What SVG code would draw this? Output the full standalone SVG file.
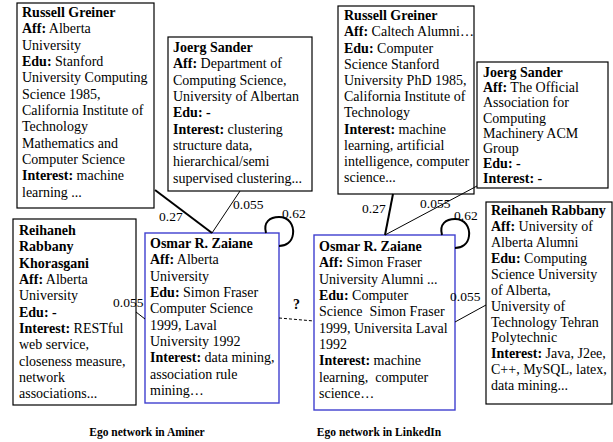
<svg xmlns="http://www.w3.org/2000/svg" width="613" height="442" viewBox="0 0 613 442">
<style>
text{font-family:"Liberation Serif","Times New Roman",serif;font-size:14px;fill:#000}
.b{font-weight:bold}
.box{fill:#fff;stroke:#000;stroke-width:1.2}
.ego{fill:#fff;stroke:#3f3fcf;stroke-width:1.4}
.thin{fill:none;stroke:#000;stroke-width:1}
.thick{fill:none;stroke:#000;stroke-width:2}
.dash{fill:none;stroke:#000;stroke-width:1;stroke-dasharray:3 2}
.lbl{font-size:13.5px}
.cap{font-size:11.5px;font-weight:bold;text-anchor:middle}
</style>
<rect width="613" height="442" fill="#fff"/>
<g id="aminer-russell">
<rect class="box" x="17" y="3" width="137" height="205"/>
<text>
<tspan x="22" y="17" class="b">Russell Greiner</tspan>
<tspan x="22" y="33"><tspan class="b">Aff:</tspan> Alberta</tspan>
<tspan x="22" y="50">University</tspan>
<tspan x="22" y="66"><tspan class="b">Edu:</tspan> Stanford</tspan>
<tspan x="22" y="82">University Computing</tspan>
<tspan x="22" y="99">Science 1985,</tspan>
<tspan x="22" y="115">California Institute of</tspan>
<tspan x="22" y="131">Technology</tspan>
<tspan x="22" y="148">Mathematics and</tspan>
<tspan x="22" y="164">Computer Science</tspan>
<tspan x="22" y="180"><tspan class="b">Interest:</tspan> machine</tspan>
<tspan x="22" y="197">learning ...</tspan>
</text>
</g>
<g id="aminer-joerg">
<rect class="box" x="168" y="37" width="144" height="154"/>
<text>
<tspan x="173" y="52" class="b">Joerg Sander</tspan>
<tspan x="173" y="68"><tspan class="b">Aff:</tspan> Department of</tspan>
<tspan x="173" y="85">Computing Science,</tspan>
<tspan x="173" y="101">University of Albertan</tspan>
<tspan x="173" y="117" class="b">Edu: -</tspan>
<tspan x="173" y="134"><tspan class="b">Interest:</tspan> clustering</tspan>
<tspan x="173" y="150">structure data,</tspan>
<tspan x="173" y="166">hierarchical/semi</tspan>
<tspan x="173" y="183">supervised clustering...</tspan>
</text>
</g>
<g id="aminer-reihaneh">
<rect class="box" x="13" y="219" width="123" height="186"/>
<text>
<tspan x="19" y="235" class="b">Reihaneh</tspan>
<tspan x="19" y="251" class="b">Rabbany</tspan>
<tspan x="19" y="268" class="b">Khorasgani</tspan>
<tspan x="19" y="284"><tspan class="b">Aff:</tspan> Alberta</tspan>
<tspan x="19" y="300">University</tspan>
<tspan x="19" y="317" class="b">Edu: -</tspan>
<tspan x="19" y="333"><tspan class="b">Interest:</tspan> RESTful</tspan>
<tspan x="19" y="349">web service,</tspan>
<tspan x="19" y="366">closeness measure,</tspan>
<tspan x="19" y="382">network</tspan>
<tspan x="19" y="398">associations...</tspan>
</text>
</g>
<g id="aminer-osmar">
<rect class="ego" x="145" y="233" width="134" height="170"/>
<text>
<tspan x="150" y="248" class="b">Osmar R. Zaiane</tspan>
<tspan x="150" y="264"><tspan class="b">Aff:</tspan> Alberta</tspan>
<tspan x="150" y="281">University</tspan>
<tspan x="150" y="297"><tspan class="b">Edu:</tspan> Simon Fraser</tspan>
<tspan x="150" y="313">Computer Science</tspan>
<tspan x="150" y="330">1999, Laval</tspan>
<tspan x="150" y="346">University 1992</tspan>
<tspan x="150" y="362"><tspan class="b">Interest:</tspan> data mining,</tspan>
<tspan x="150" y="379">association rule</tspan>
<tspan x="150" y="395">mining…</tspan>
</text>
</g>
<g id="linkedin-russell">
<rect class="box" x="338" y="6" width="136" height="188"/>
<text>
<tspan x="344" y="20" class="b">Russell Greiner</tspan>
<tspan x="344" y="36"><tspan class="b">Aff:</tspan> Caltech Alumni…</tspan>
<tspan x="344" y="53"><tspan class="b">Edu:</tspan> Computer</tspan>
<tspan x="344" y="69">Science Stanford</tspan>
<tspan x="344" y="85">University PhD 1985,</tspan>
<tspan x="344" y="101">California Institute of</tspan>
<tspan x="344" y="117">Technology</tspan>
<tspan x="344" y="134"><tspan class="b">Interest:</tspan> machine</tspan>
<tspan x="344" y="150">learning, artificial</tspan>
<tspan x="344" y="166">intelligence, computer</tspan>
<tspan x="344" y="182">science...</tspan>
</text>
</g>
<g id="linkedin-joerg">
<rect class="box" x="477" y="62" width="131" height="126"/>
<text>
<tspan x="483" y="77" class="b">Joerg Sander</tspan>
<tspan x="483" y="92"><tspan class="b">Aff:</tspan> The Official</tspan>
<tspan x="483" y="107">Association for</tspan>
<tspan x="483" y="123">Computing</tspan>
<tspan x="483" y="138">Machinery ACM</tspan>
<tspan x="483" y="153">Group</tspan>
<tspan x="483" y="168" class="b">Edu: -</tspan>
<tspan x="483" y="183" class="b">Interest: -</tspan>
</text>
</g>
<g id="linkedin-osmar">
<rect class="ego" x="314" y="235" width="141" height="175"/>
<text xml:space="preserve">
<tspan x="319" y="251" class="b">Osmar R. Zaiane</tspan>
<tspan x="319" y="267"><tspan class="b">Aff:</tspan> Simon Fraser</tspan>
<tspan x="319" y="284">University Alumni ...</tspan>
<tspan x="319" y="300"><tspan class="b">Edu:</tspan> Computer</tspan>
<tspan x="319" y="316">Science  Simon Fraser</tspan>
<tspan x="319" y="333">1999, Universita Laval</tspan>
<tspan x="319" y="349">1992</tspan>
<tspan x="319" y="365"><tspan class="b">Interest:</tspan> machine</tspan>
<tspan x="319" y="382">learning,  computer</tspan>
<tspan x="319" y="398">science…</tspan>
</text>
</g>
<g id="linkedin-reihaneh">
<rect class="box" x="486" y="202" width="126" height="202"/>
<text>
<tspan x="491" y="215" class="b">Reihaneh Rabbany</tspan>
<tspan x="491" y="231"><tspan class="b">Aff:</tspan> University of</tspan>
<tspan x="491" y="247">Alberta Alumni</tspan>
<tspan x="491" y="263"><tspan class="b">Edu:</tspan> Computing</tspan>
<tspan x="491" y="279">Science University</tspan>
<tspan x="491" y="295">of Alberta,</tspan>
<tspan x="491" y="311">University of</tspan>
<tspan x="491" y="327">Technology Tehran</tspan>
<tspan x="491" y="342">Polytechnic</tspan>
<tspan x="491" y="358"><tspan class="b">Interest:</tspan> Java, J2ee,</tspan>
<tspan x="491" y="374">C++, MySQL, latex,</tspan>
<tspan x="491" y="390">data mining...</tspan>
</text>
</g>
<g id="connectors">
<line class="thick" x1="155" y1="190" x2="212" y2="233"/>
<line class="thin" x1="240" y1="191" x2="212" y2="233"/>
<path class="thick" d="M266,233 C263,222 270,217 279,217 C289,217 294,225 293,234 C292,242 286,246 279,246"/>
<line class="thin" x1="136" y1="312" x2="145" y2="319"/>
<line class="dash" x1="279" y1="318" x2="314" y2="321"/>
<line class="thick" x1="393" y1="194" x2="385" y2="235"/>
<line class="thin" x1="477" y1="186" x2="385" y2="235"/>
<path class="thick" d="M442,235 C439,224 446,219 455,219 C465,219 470,227 469,236 C468,244 462,248 455,248"/>
<line class="thin" x1="455" y1="322" x2="486" y2="305"/>
<text class="lbl" x="159" y="221">0.27</text>
<text class="lbl" x="233" y="209">0.055</text>
<text class="lbl" x="282" y="218">0.62</text>
<text class="lbl" x="113" y="307">0.055</text>
<text class="b" x="293" y="309">?</text>
<text class="lbl" x="362" y="213">0.27</text>
<text class="lbl" x="420" y="208">0.055</text>
<text class="lbl" x="454" y="220">0.62</text>
<text class="lbl" x="450" y="301">0.055</text>
</g>
<g id="captions">
<text class="cap" x="147" y="436">Ego network in Aminer</text>
<text class="cap" x="379" y="436">Ego network in LinkedIn</text>
</g>
</svg>
